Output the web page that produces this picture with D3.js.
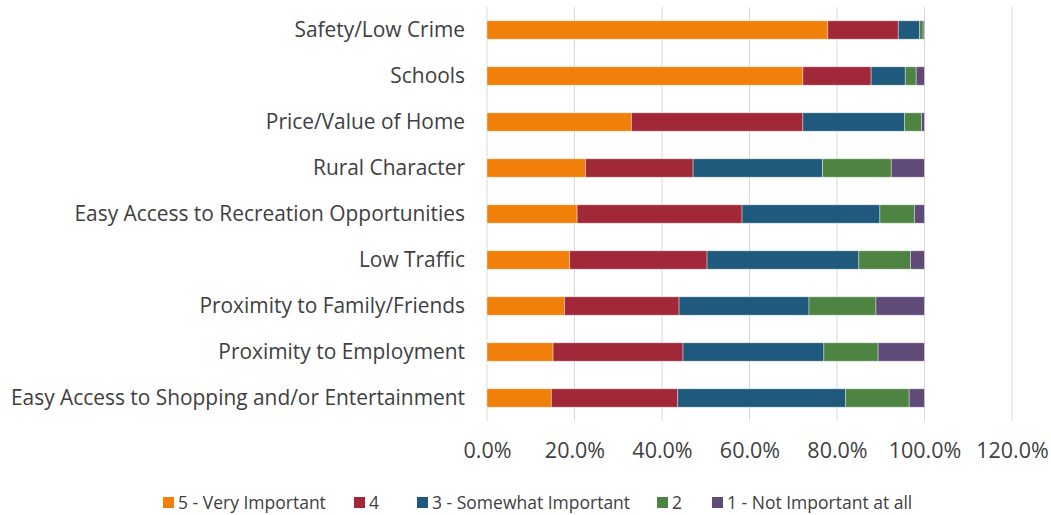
<!DOCTYPE html>
<html>
<head>
<meta charset="utf-8">
<script src="https://cdn.jsdelivr.net/npm/d3@7"></script>
<style>
  body { margin: 0; background: #fff; }
  text { font-family: "Open Sans", sans-serif; fill: #404040; }
</style>
</head>
<body>
<div id="chart"></div>
<script>
const categories = [
  "Safety/Low Crime",
  "Schools",
  "Price/Value of Home",
  "Rural Character",
  "Easy Access to Recreation Opportunities",
  "Low Traffic",
  "Proximity to Family/Friends",
  "Proximity to Employment",
  "Easy Access to Shopping and/or Entertainment"
];
const seriesNames = ["5 - Very Important", "4", "3 - Somewhat Important", "2", "1 - Not Important at all"];
const veryImportant = [77.9, 72.2, 33.0, 22.5, 20.6, 18.9, 17.7, 15.1, 14.7];
const four = [16.1, 15.6, 39.2, 24.6, 37.7, 31.4, 26.2, 29.7, 28.9];
const somewhatImportant = [4.9, 7.8, 23.2, 29.6, 31.5, 34.7, 29.7, 32.2, 38.4];
const two = [0.8, 2.5, 3.9, 15.7, 7.9, 11.8, 15.3, 12.4, 14.5];
const notImportant = [0.3, 1.9, 0.7, 7.6, 2.3, 3.2, 11.1, 10.6, 3.5];
const tickValues = [0, 20, 40, 60, 80, 100, 120];
const colors = ["#f0800a", "#a02838", "#1f5a7d", "#4e8442", "#604a78"];

const width = 1051, height = 515;
const margin = { top: 7, right: 39, bottom: 94, left: 487 };

const svg = d3.select("#chart").append("svg")
  .attr("width", width)
  .attr("height", height);

const rows = categories.map((c, i) => {
  const row = { category: c };
  row[seriesNames[0]] = veryImportant[i];
  row[seriesNames[1]] = four[i];
  row[seriesNames[2]] = somewhatImportant[i];
  row[seriesNames[3]] = two[i];
  row[seriesNames[4]] = notImportant[i];
  return row;
});
const stacked = d3.stack().keys(seriesNames)(rows);

const x = d3.scaleLinear()
  .domain([0, 120])
  .range([margin.left, width - margin.right]);

const y = d3.scaleBand()
  .domain(categories)
  .range([margin.top, height - margin.bottom])
  .paddingInner(0.6)
  .paddingOuter(0.3);

// gridlines
svg.append("g")
  .selectAll("line")
  .data(tickValues)
  .enter()
  .append("line")
  .attr("x1", d => x(d))
  .attr("x2", d => x(d))
  .attr("y1", margin.top)
  .attr("y2", height - margin.bottom)
  .attr("stroke", "#d9d9d9")
  .attr("stroke-width", 1);

// bars
svg.append("g")
  .selectAll("g")
  .data(stacked)
  .enter()
  .append("g")
  .attr("fill", (d, i) => colors[i])
  .selectAll("rect")
  .data(d => d)
  .enter()
  .append("rect")
  .attr("x", d => x(d[0]))
  .attr("width", d => x(d[1]) - x(d[0]))
  .attr("y", d => y(d.data.category))
  .attr("height", y.bandwidth())
  .attr("stroke", "rgba(255,255,255,0.5)")
  .attr("stroke-width", 0.75);

// x axis labels
const xAxis = d3.axisBottom(x)
  .tickValues(tickValues)
  .tickFormat(d => d.toFixed(1) + "%")
  .tickSize(0)
  .tickPadding(22);

svg.append("g")
  .attr("transform", "translate(0," + (height - margin.bottom) + ")")
  .call(xAxis)
  .call(g => g.select(".domain").remove())
  .selectAll("text")
  .style("font-family", "'Open Sans', sans-serif")
  .style("font-size", "21.5px")
  .attr("fill", "#404040");

// category labels
const yAxis = d3.axisLeft(y).tickSize(0).tickPadding(22);
svg.append("g")
  .attr("transform", "translate(" + margin.left + ",0)")
  .call(yAxis)
  .call(g => g.select(".domain").remove())
  .selectAll("text")
  .style("font-family", "'Open Sans', sans-serif")
  .style("font-size", "20.9px")
  .attr("fill", "#404040");

// legend
const legendX = [163, 354, 417, 657, 712];
const legend = svg.append("g")
  .attr("transform", "translate(0,502.5)");

const item = legend.selectAll("g")
  .data(seriesNames)
  .enter()
  .append("g")
  .attr("transform", (d, i) => "translate(" + legendX[i] + ",0)");

item.append("rect")
  .attr("x", 0)
  .attr("y", -5.5)
  .attr("width", 11)
  .attr("height", 11)
  .attr("fill", (d, i) => colors[i]);

item.append("text")
  .attr("x", 15)
  .attr("dy", "0.35em")
  .style("font-size", "17.5px")
  .text(d => d);
</script>
</body>
</html>
